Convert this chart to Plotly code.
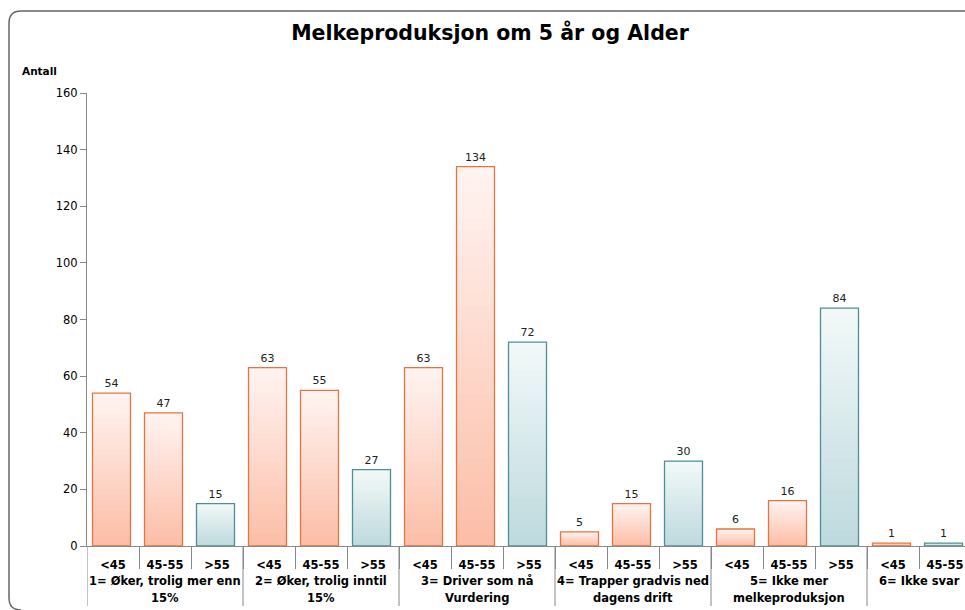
import plotly.graph_objects as go

# ---- data ----
groups = [
    "1= Øker, trolig mer enn<br>15%",
    "2= Øker, trolig inntil<br>15%",
    "3= Driver som nå<br>Vurdering",
    "4= Trapper gradvis ned<br>dagens drift",
    "5= Ikke mer<br>melkeproduksjon",
    "6= Ikke svar",
]
ages_per_group = [
    ["<45", "45-55", ">55"],
    ["<45", "45-55", ">55"],
    ["<45", "45-55", ">55"],
    ["<45", "45-55", ">55"],
    ["<45", "45-55", ">55"],
    ["<45", "45-55"],
]
values_per_group = [
    [54, 47, 15],
    [63, 55, 27],
    [63, 134, 72],
    [5, 15, 30],
    [6, 16, 84],
    [1, 1],
]
palette_per_group = [
    ["o", "o", "t"],
    ["o", "o", "t"],
    ["o", "o", "t"],
    ["o", "o", "t"],
    ["o", "o", "t"],
    ["o", "t"],
]
y_ticks = [0, 20, 40, 60, 80, 100, 120, 140, 160]

# ---- build flat lists ----
xpos, xa, vals, kinds = [], [], [], []
group_centers, group_bounds = [], [-0.5]
i = 0
for g, ages, vs, ks in zip(groups, ages_per_group, values_per_group, palette_per_group):
    start = i
    for a, v, k in zip(ages, vs, ks):
        xpos.append(i); xa.append(a); vals.append(v); kinds.append(k)
        i += 1
    group_centers.append((start + i - 1) / 2)
    group_bounds.append(i - 0.5)
slot_bounds = [p + 0.5 for p in xpos]

styles = {
    "o": {"top": (255, 243, 240), "bot": (252, 190, 168), "line": "#E3763F"},
    "t": {"top": (242, 248, 248), "bot": (190, 218, 222), "line": "#4E8F97"},
}

def mix(c1, c2, t):
    return "rgb(%d,%d,%d)" % tuple(round(a + (b - a) * t) for a, b in zip(c1, c2))

# geometry (page pixels; body margin removed via post_script)
W, H = 965, 610
L, T = 87, 93
B = H - 546
R = 0
pw, ph = W - L - R, H - T - B
slot = 52.0
x_lo = -0.5
x_hi = x_lo + pw / slot
BAR_W = 38 / slot
BAR_OFF = -20.5 / slot

fig = go.Figure()
N = 30
for k in range(N):
    frac = 1 - k / N
    t = k / (N - 1)
    fig.add_trace(go.Bar(
        x=xpos, y=[v * frac for v in vals], width=BAR_W, offset=BAR_OFF,
        marker=dict(color=[mix(styles[c]["top"], styles[c]["bot"], t) for c in kinds],
                    line=dict(width=0)),
        showlegend=False, hoverinfo="skip",
    ))

fig.add_trace(go.Bar(
    x=xpos, y=vals, width=BAR_W, offset=BAR_OFF,
    marker=dict(color="rgba(0,0,0,0)",
                line=dict(color=[styles[c]["line"] for c in kinds], width=1.3)),
    text=[str(v) for v in vals], textposition="outside",
    textfont=dict(family="DejaVu Sans", size=11, color="#222"),
    cliponaxis=False, showlegend=False,
))

def px(x):
    return (x - L) / pw

def py(y):
    return (H - B - y) / ph

border = ("M %f,%f L %f,%f Q %f,%f %f,%f L %f,%f Q %f,%f %f,%f" % (
    px(990), py(11), px(21), py(11), px(9), py(11), px(9), py(23),
    px(9), py(598), px(9), py(610), px(21), py(610)))

shapes = [dict(type="path", path=border, xref="paper", yref="paper",
               line=dict(color="#666", width=1.5), layer="below")]
for b in group_bounds:
    shapes.append(dict(type="line", xref="x", yref="paper", x0=b, x1=b,
                       y0=0, y1=py(606), line=dict(color="#888", width=1)))

annotations = [dict(text="<b>Antall</b>", xref="paper", yref="paper",
                    x=px(20), y=py(71), xanchor="left", yanchor="middle",
                    showarrow=False, font=dict(size=10.5, family="DejaVu Sans"))]
for gc, g in zip(group_centers, groups):
    for li, line in enumerate(g.split("<br>")):
        annotations.append(dict(
            text="<b>%s</b>" % line, xref="x", yref="paper",
            x=gc, y=py(581 + 17 * li), xanchor="center", yanchor="middle",
            showarrow=False, font=dict(size=11.5, family="DejaVu Sans", color="#000")))

fig.update_layout(
    width=W, height=H,
    margin=dict(l=L, r=R, t=T, b=B, autoexpand=False),
    barmode="overlay",
    plot_bgcolor="white", paper_bgcolor="white",
    font=dict(family="DejaVu Sans", color="#000"),
    title=dict(text="<b>Melkeproduksjon om 5 år og Alder</b>",
               xref="container", yref="container",
               x=490 / W, xanchor="center",
               y=1 - 33 / H, yanchor="middle",
               font=dict(size=20.5, family="DejaVu Sans")),
    shapes=shapes,
    annotations=annotations,
)
fig.update_xaxes(
    range=[x_lo, x_hi], tickvals=xpos, ticktext=xa,
    showline=True, linecolor="#888", linewidth=1,
    ticks="", ticklabelstandoff=8,
    tickfont=dict(size=11.5, family="DejaVu Sans", color="#000", weight="bold"),
    minor=dict(tickvals=slot_bounds, ticks="outside", ticklen=22, tickcolor="#888"),
    showgrid=False, zeroline=False,
)
fig.update_yaxes(
    range=[0, 160], tickvals=y_ticks, showgrid=False,
    showline=True, linecolor="#888", linewidth=1,
    ticks="outside", ticklen=6, tickcolor="#888",
    tickfont=dict(size=11.5, family="DejaVu Sans", color="#000"),
    zeroline=False,
)

fig.write_html(
    "out.html",
    config={"displayModeBar": False},
    post_script="document.body.style.margin='0';document.body.style.overflow='hidden';",
)
